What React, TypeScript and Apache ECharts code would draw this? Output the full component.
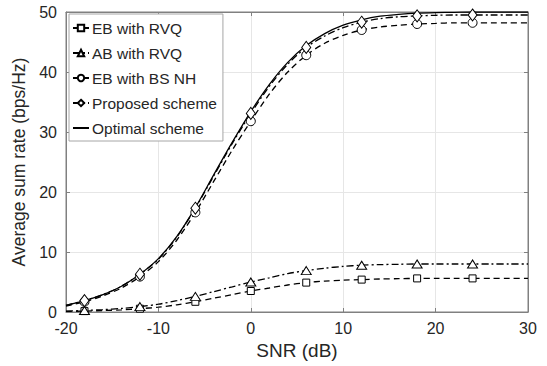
import React, { useEffect, useRef } from "react";
import * as echarts from "echarts";

const snr = [-20, -18, -16, -14, -12, -10, -8, -6, -4, -2, 0, 2, 4, 6, 8, 10, 12, 14, 16, 18, 20, 22, 24, 26, 28, 30];
const markerSnr = [-18, -12, -6, 0, 6, 12, 18, 24];

const ebRvq = [0.1, 0.15, 0.25, 0.35, 0.55, 0.8, 1.2, 1.7, 2.3, 2.9, 3.5, 4.0, 4.5, 4.9, 5.15, 5.3, 5.4, 5.5, 5.55, 5.6, 5.6, 5.6, 5.6, 5.6, 5.6, 5.6];
const abRvq = [0.15, 0.25, 0.4, 0.6, 0.9, 1.3, 1.9, 2.6, 3.4, 4.2, 5.0, 5.7, 6.4, 6.9, 7.3, 7.6, 7.8, 7.9, 7.95, 8.0, 8.0, 8.0, 8.0, 8.0, 8.0, 8.0];
const ebBsNh = [1.0, 1.7, 2.7, 4.0, 5.9, 8.4, 12.0, 16.6, 21.8, 27.0, 31.8, 36.3, 40.0, 42.8, 44.8, 46.1, 47.0, 47.5, 47.8, 48.0, 48.1, 48.2, 48.2, 48.2, 48.2, 48.2];
const proposed = [1.1, 1.9, 2.9, 4.3, 6.3, 8.8, 12.5, 17.3, 22.7, 28.1, 33.1, 37.6, 41.3, 44.1, 46.0, 47.4, 48.3, 48.9, 49.2, 49.35, 49.45, 49.5, 49.5, 49.5, 49.5, 49.5];
const optimal = [1.1, 1.9, 2.9, 4.3, 6.3, 8.9, 12.6, 17.4, 22.9, 28.3, 33.4, 37.9, 41.6, 44.4, 46.4, 47.8, 48.7, 49.3, 49.6, 49.8, 49.9, 49.95, 50, 50, 50, 50];

const seriesNames = ["EB with RVQ", "AB with RVQ", "EB with BS NH", "Proposed scheme", "Optimal scheme"];
const xTicks = { min: -20, max: 30, interval: 10 };
const yTicks = { min: 0, max: 50, interval: 10 };

const FONT = "'Liberation Sans', Arial, Helvetica, sans-serif";
const TEXT = "#262626";
const AXIS = "#808080";

export default function App() {
  const ref = useRef<HTMLDivElement>(null);
  useEffect(() => {
    document.body.style.margin = "0";
    const chart = echarts.init(ref.current!, null, { renderer: "svg" });
    const pairs = (ys: number[]) => snr.map((x, i) => [x, ys[i]]);
    const mk = (name: string, ys: number[], symbol: string, size: number | number[], dash: any) => ({
      name,
      type: "line",
      data: pairs(ys),
      smooth: 0.3,
      showAllSymbol: true,
      symbol,
      symbolSize: (v: number[]) => (markerSnr.includes(v[0]) ? size : 0),
      lineStyle: { color: "#000", width: 1.3, type: dash },
      itemStyle: { color: "#fff", borderColor: "#000", borderWidth: 1 },
      emphasis: { disabled: true },
      xAxisIndex: 0,
      yAxisIndex: 0,
    });
    const axisCommon = {
      type: "value",
      axisLine: { show: true, onZero: false, lineStyle: { color: AXIS, width: 1 } },
      axisTick: { show: true, inside: true, length: 4, lineStyle: { color: AXIS } },
    };
    chart.setOption({
      animation: false,
      textStyle: { fontFamily: FONT },
      grid: { left: 66, right: 19, top: 12, bottom: 54, show: true, borderColor: AXIS, borderWidth: 1, backgroundColor: "#fff" },
      legend: {
        orient: "vertical",
        left: 69,
        top: 14,
        padding: [5, 6, 4, 3],
        itemGap: 7,
        itemWidth: 16,
        itemHeight: 8,
        backgroundColor: "#fff",
        borderColor: "#a6a6a6",
        borderWidth: 1,
        borderRadius: 0,
        textStyle: { color: TEXT, fontSize: 15.5, fontFamily: FONT, lineHeight: 18, padding: [0, 0, 0, -2] },
        data: [
          { name: seriesNames[0] },
          { name: seriesNames[1] },
          { name: seriesNames[2] },
          { name: seriesNames[3] },
          { name: seriesNames[4], itemStyle: { opacity: 0 } },
        ],
      },
      xAxis: [
        {
          ...axisCommon,
          ...xTicks,
          position: "bottom",
          name: "SNR (dB)",
          nameLocation: "middle",
          nameGap: 26,
          nameTextStyle: { color: TEXT, fontSize: 19, fontFamily: FONT },
          axisLabel: { color: TEXT, fontSize: 16, margin: 8, fontFamily: FONT },
          splitLine: { show: true, lineStyle: { color: "#e6e6e6", width: 1 } },
        },
        {
          ...axisCommon,
          ...xTicks,
          position: "top",
          axisLabel: { show: false },
          splitLine: { show: false },
        },
      ],
      yAxis: [
        {
          ...axisCommon,
          ...yTicks,
          position: "left",
          name: "Average sum rate (bps/Hz)",
          nameLocation: "middle",
          nameGap: 37,
          nameTextStyle: { color: TEXT, fontSize: 17.5, fontFamily: FONT },
          axisLabel: { color: TEXT, fontSize: 16, margin: 9, fontFamily: FONT },
          splitLine: { show: true, lineStyle: { color: "#e6e6e6", width: 1 } },
        },
        {
          ...axisCommon,
          ...yTicks,
          position: "right",
          axisLabel: { show: false },
          splitLine: { show: false },
        },
      ],
      series: [
        mk(seriesNames[0], ebRvq, "rect", 7, [6, 4]),
        mk(seriesNames[1], abRvq, "triangle", [10, 8], [7, 3, 2, 3]),
        mk(seriesNames[2], ebBsNh, "circle", 9, [6, 4]),
        mk(seriesNames[3], proposed, "diamond", [9, 12], [7, 3, 2, 3]),
        mk(seriesNames[4], optimal, "none", 0, "solid"),
      ],
    });
    return () => chart.dispose();
  }, []);
  return <div ref={ref} style={{ width: 547, height: 366 }} />;
}
